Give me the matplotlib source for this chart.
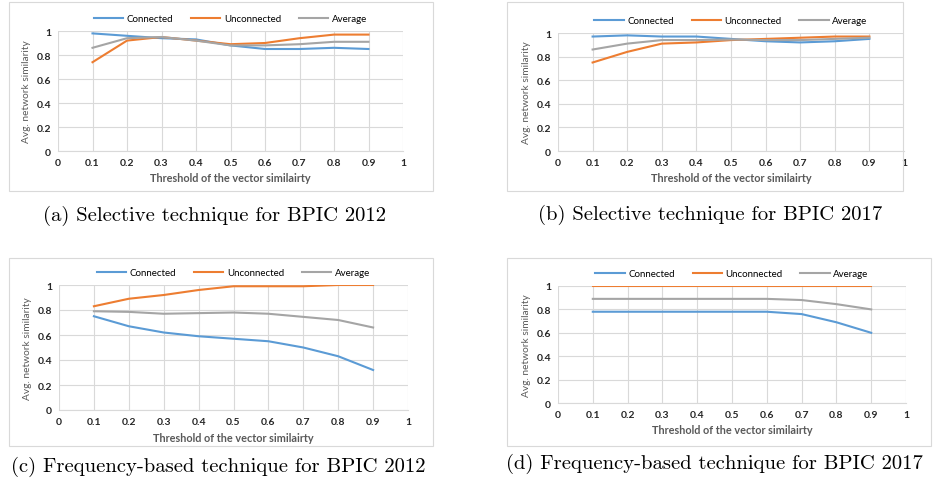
import numpy as np
import matplotlib
matplotlib.use('Agg')
from matplotlib import pyplot as plt
from matplotlib.patches import Rectangle

###############################################################################
# Data
###############################################################################

thresholds = [0.1, 0.2, 0.3, 0.4, 0.5, 0.6, 0.7, 0.8, 0.9]

# (a) selective, BPIC 2012
a_connected = [0.98, 0.96, 0.94, 0.93, 0.88, 0.85, 0.85, 0.86, 0.85]
a_unconnected = [0.74, 0.92, 0.95, 0.92, 0.89, 0.90, 0.94, 0.97, 0.97]
a_average = [0.86, 0.94, 0.95, 0.92, 0.88, 0.88, 0.89, 0.91, 0.91]

# (b) selective, BPIC 2017
b_connected = [0.97, 0.98, 0.97, 0.97, 0.95, 0.93, 0.92, 0.93, 0.95]
b_unconnected = [0.75, 0.84, 0.91, 0.92, 0.94, 0.95, 0.96, 0.97, 0.97]
b_average = [0.86, 0.91, 0.94, 0.94, 0.945, 0.94, 0.94, 0.95, 0.96]

# (c) frequency-based, BPIC 2012
c_connected = [0.75, 0.67, 0.62, 0.59, 0.57, 0.55, 0.50, 0.43, 0.32]
c_unconnected = [0.83, 0.89, 0.92, 0.96, 0.99, 0.99, 0.99, 1.0, 1.0]
c_average = [0.79, 0.785, 0.77, 0.775, 0.78, 0.77, 0.745, 0.72, 0.66]

# (d) frequency-based, BPIC 2017
d_connected = [0.78, 0.78, 0.78, 0.78, 0.78, 0.78, 0.76, 0.69, 0.60]
d_unconnected = [1.0, 1.0, 1.0, 1.0, 1.0, 1.0, 1.0, 1.0, 1.0]
d_average = [0.89, 0.89, 0.89, 0.89, 0.89, 0.89, 0.88, 0.845, 0.80]

series_names = ['Connected', 'Unconnected', 'Average']
xtick_vals = [0, 0.1, 0.2, 0.3, 0.4, 0.5, 0.6, 0.7, 0.8, 0.9, 1]
xtick_labels = ['0', '0.1', '0.2', '0.3', '0.4', '0.5', '0.6', '0.7', '0.8', '0.9', '1']
ytick_vals = [0, 0.2, 0.4, 0.6, 0.8, 1]
ytick_labels = ['0', '0.2', '0.4', '0.6', '0.8', '1']

captions = ['(a) Selective technique for BPIC 2012',
            '(b) Selective technique for BPIC 2017',
            '(c) Frequency-based technique for BPIC 2012',
            '(d) Frequency-based technique for BPIC 2017']

###############################################################################
# Plotting
###############################################################################

plt.rcParams['font.family'] = ['Lato', 'DejaVu Sans']

colors = ['#5B9BD5', '#ED7D31', '#A5A5A5']
W, H = 933, 489

fig = plt.figure(figsize=(9.33, 4.89), dpi=100)

def px_rect(x0, y0, x1, y1):
    # pixel box (top-left origin) -> figure fraction [l, b, w, h]
    return [x0 / W, 1 - y1 / H, (x1 - x0) / W, (y1 - y0) / H]

# chart frames, axes boxes, caption positions (pixels)
frames = [(9, 3, 433, 192), (507, 3, 903, 192),
          (9, 259, 433, 447), (507, 259, 931, 447)]
boxes = [(58, 32, 403, 152), (558, 34, 904, 152),
         (59, 286, 408, 411), (558, 287, 906, 404)]
cap_pos = [(43, 216), (538, 215), (11, 467), (506, 464)]

data = [(a_connected, a_unconnected, a_average),
        (b_connected, b_unconnected, b_average),
        (c_connected, c_unconnected, c_average),
        (d_connected, d_unconnected, d_average)]

for frame, box, cap, vals, caption in zip(frames, boxes, cap_pos, data, captions):
    fr = px_rect(*frame)
    fig.patches.append(Rectangle(fr[:2], fr[2], fr[3], transform=fig.transFigure,
                                 fill=False, edgecolor='#D9D9D9', lw=0.8))
    ax = fig.add_axes(px_rect(*box))
    for v, name, col in zip(vals, series_names, colors):
        ax.plot(thresholds, v, color=col, lw=1.5, label=name)
    ax.set_xlim(0, 1)
    ax.set_ylim(0, 1)
    ax.set_xticks(xtick_vals)
    ax.set_xticklabels(xtick_labels)
    ax.set_yticks(ytick_vals)
    ax.set_yticklabels(ytick_labels)
    ax.tick_params(length=0, labelsize=7.5, labelcolor='#262626', pad=5)
    for lab in ax.get_xticklabels() + ax.get_yticklabels():
        lab.set_fontweight('bold')
    ax.grid(True, color='#D9D9D9', lw=0.8)
    ax.set_axisbelow(True)
    for s in ['top', 'right', 'left']:
        ax.spines[s].set_visible(False)
    ax.spines['bottom'].set_color('#D9D9D9')
    ax.set_ylabel('Avg. network similarity', fontsize=7.3, color='#595959',
                  labelpad=4)
    ax.set_xlabel('Threshold of the vector similairty', fontsize=7.8,
                  color='#595959', fontweight='bold', labelpad=4)
    ax.legend(loc='lower center', bbox_to_anchor=(0.5, 1.0), ncol=3,
              frameon=False, fontsize=7, handlelength=3, columnspacing=1.8,
              handletextpad=0.4, borderaxespad=0.4)
    fig.text(cap[0] / W, 1 - cap[1] / H, caption, family='cmr10',
             fontsize=14.9, va='center', ha='left')

fig.savefig('out.png', dpi=100)
